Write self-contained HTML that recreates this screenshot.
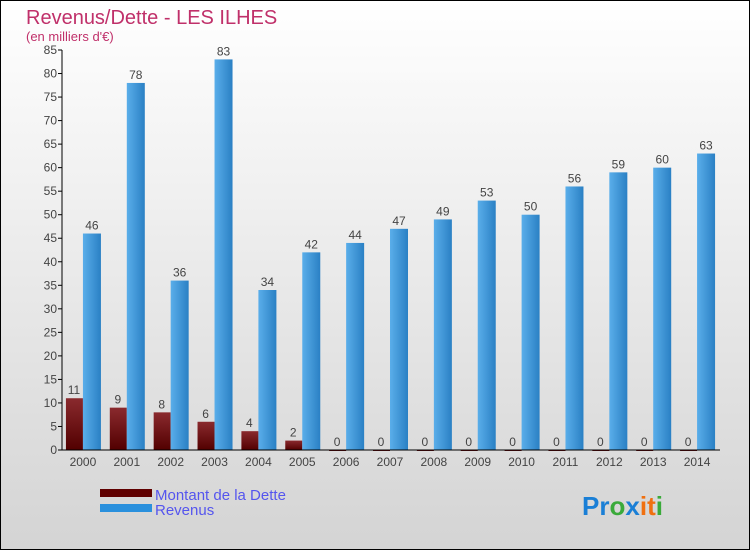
<!DOCTYPE html>
<html><head><meta charset="utf-8"><style>
body{margin:0;width:750px;height:550px;overflow:hidden;font-family:"Liberation Sans",sans-serif}
svg text{font-family:"Liberation Sans",sans-serif}
</style></head><body>
<svg id="chart" width="750" height="550" xmlns="http://www.w3.org/2000/svg">
<defs>
<linearGradient id="bg" x1="0" y1="0" x2="0" y2="1"><stop offset="0" stop-color="#ffffff"/><stop offset="1" stop-color="#d4d4d4"/></linearGradient>
<linearGradient id="gRed" x1="0" y1="0" x2="0" y2="1"><stop offset="0" stop-color="#8a2a2e"/><stop offset="1" stop-color="#520000"/></linearGradient>
<linearGradient id="gBlue" x1="0" y1="0" x2="1" y2="0"><stop offset="0" stop-color="#5aaeea"/><stop offset="1" stop-color="#2a80c4"/></linearGradient>
</defs>
<rect x="0.5" y="0.5" width="749" height="549" fill="url(#bg)" stroke="#000"/>
<text x="26" y="24" font-size="20" fill="#c0306a">Revenus/Dette - LES ILHES</text>
<text x="26" y="41" font-size="13" fill="#c0306a">(en milliers d'€)</text>
<g id="grid"></g><g id="bars"></g><g id="axes"></g>
<g>
<rect x="100" y="489" width="52" height="8" fill="#600000"/>
<text x="155" y="500" font-size="15" fill="#5555ee">Montant de la Dette</text>
<rect x="100" y="504" width="52" height="8" fill="#2a90dd"/>
<text x="155" y="515" font-size="15" fill="#5555ee">Revenus</text>
</g>
<text x="582" y="515" font-size="26" font-weight="bold"><tspan fill="#1a7fd6">Pr</tspan><tspan fill="#3aaa3a">o</tspan><tspan fill="#1a7fd6">x</tspan><tspan fill="#f07010">i</tspan><tspan fill="#f07010">t</tspan><tspan fill="#3aaa3a">i</tspan></text>
</svg>
<script>
const years=["2000","2001","2002","2003","2004","2005","2006","2007","2008","2009","2010","2011","2012","2013","2014"];
const dette=[11,9,8,6,4,2,0,0,0,0,0,0,0,0,0];
const revenus=[46,78,36,83,34,42,44,47,49,53,50,56,59,60,63];
const yTicks=[0,5,10,15,20,25,30,35,40,45,50,55,60,65,70,75,80,85];
const NS="http://www.w3.org/2000/svg";
const x0=62,x1=720,yBase=450,yTop=50,yMax=85;
const yS=v=>yBase-v*(yBase-yTop)/yMax;
const step=(x1-x0)/years.length;
const xC=i=>x0+step*(i+0.5)-1;
function mk(t,a,p){const e=document.createElementNS(NS,t);for(const k in a)e.setAttribute(k,a[k]);p.appendChild(e);return e;}
const axes=document.getElementById('axes'),bars=document.getElementById('bars');
let ax=mk('line',{x1:x0,y1:yTop,x2:x0,y2:yBase,stroke:'#000'},axes);


let bx=mk('line',{x1:x0,y1:yBase,x2:x1,y2:yBase,stroke:'#000'},axes);


yTicks.forEach(v=>{
 const y=yS(v);
 mk('line',{x1:x0-4,y1:y,x2:x0,y2:y,stroke:'#000'},axes);
 const t=mk('text',{x:x0-5,y:y+4,'font-size':12,'text-anchor':'end',fill:'#444'},axes);
 t.textContent=v;
 
 
});
years.forEach((yr,i)=>{
 const c=xC(i);
 const t=mk('text',{x:c,y:466,'font-size':12,'text-anchor':'middle',fill:'#444'},axes);
 t.textContent=yr;
 
 
 const d=dette[i],r=revenus[i];
 const bd=mk('rect',{x:c-17,y:yS(d),width:17,height:Math.max(yBase-yS(d),d===0?1:0),fill:'url(#gRed)'},bars);
 
 
 const br=mk('rect',{x:c,y:yS(r),width:18,height:yBase-yS(r),fill:'url(#gBlue)'},bars);
 
 
 const ld=mk('text',{x:c-9,y:yS(d)-4,'font-size':12,'text-anchor':'middle',fill:'#444'},bars);
 ld.textContent=d;
 
 
 const lr=mk('text',{x:c+9,y:yS(r)-4,'font-size':12,'text-anchor':'middle',fill:'#444'},bars);
 lr.textContent=r;
 
 
});
</script>
</body></html>
